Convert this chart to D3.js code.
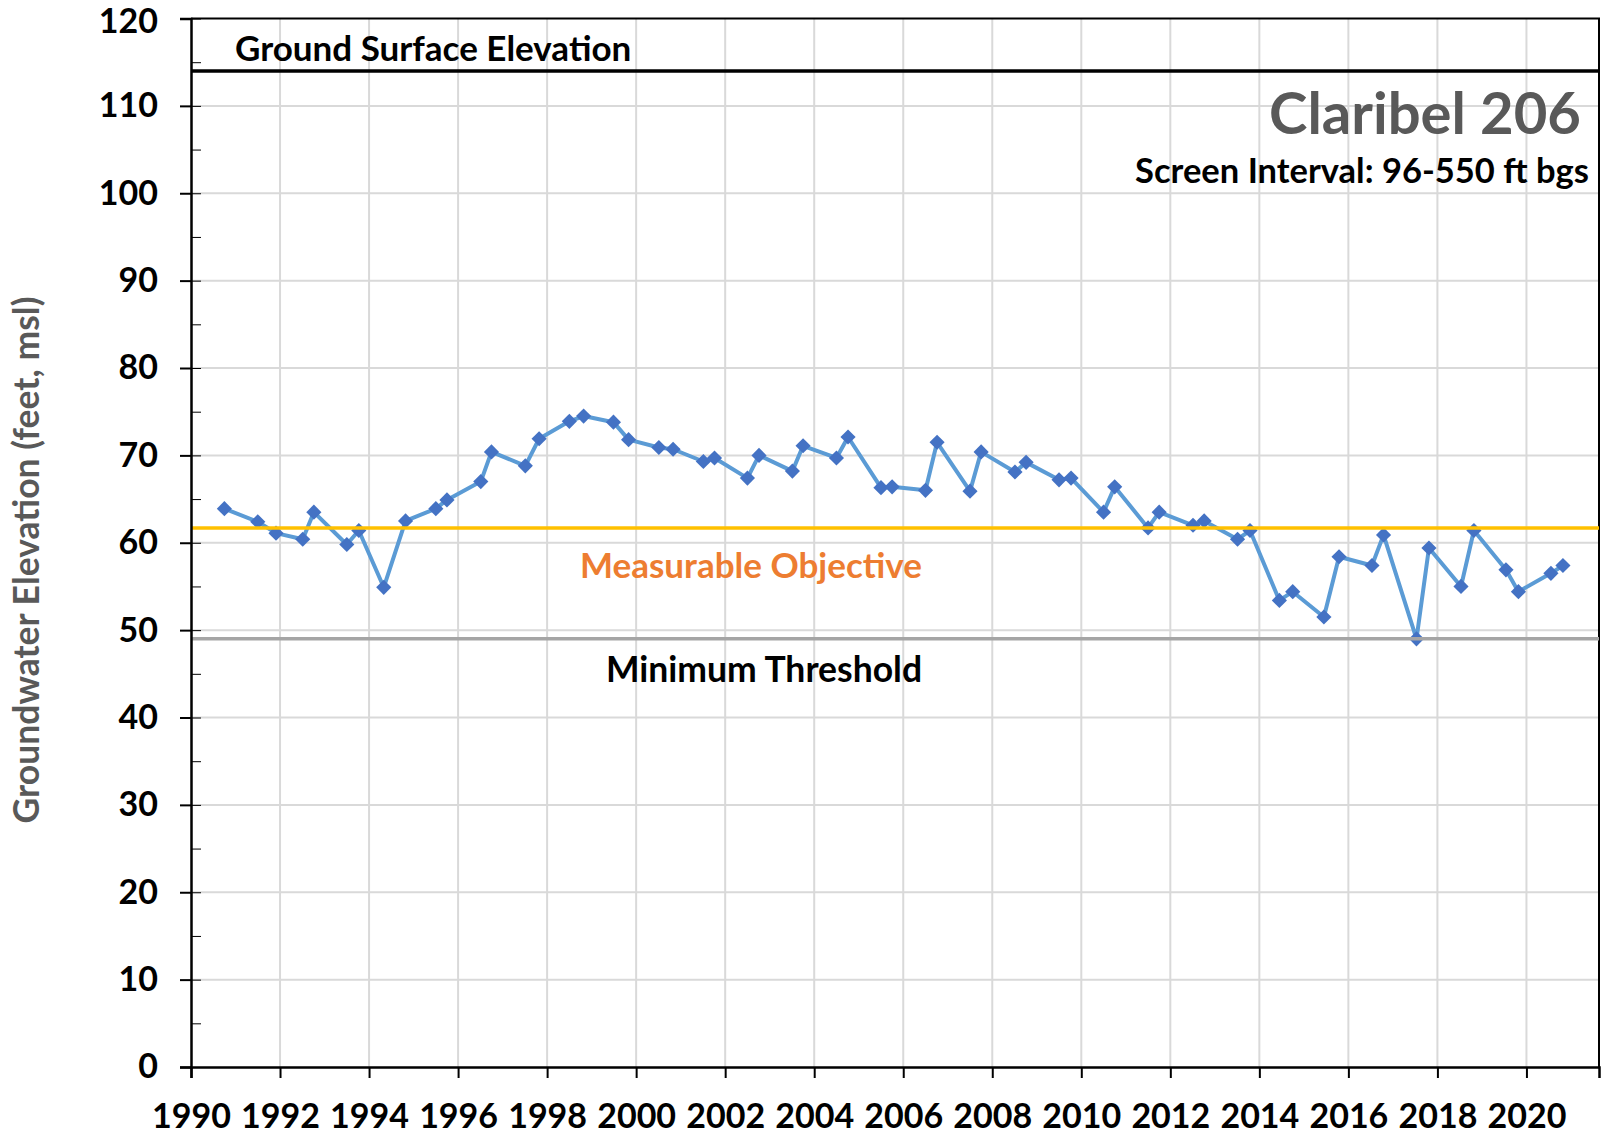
<!DOCTYPE html>
<html>
<head>
<meta charset="utf-8">
<script src="https://cdn.jsdelivr.net/npm/d3@7"></script>
<style>
  body { margin: 0; background: #fff; }
  svg text { font-family: Lato, "Open Sans", sans-serif; font-weight: 700; }
</style>
</head>
<body>
<div id="main"></div>
<script>
// Measurement dates (decimal years) and groundwater elevations (feet, msl)
var sampleYears = [
	1990.75, 1991.50, 1991.91, 1992.51, 1992.76, 1993.50, 1993.77, 1994.33, 1994.82, 1995.50,
	1995.75, 1996.51, 1996.75, 1997.51, 1997.82, 1998.50, 1998.82, 1999.49, 1999.83, 2000.51,
	2000.83, 2001.51, 2001.76, 2002.50, 2002.76, 2003.51, 2003.75, 2004.50, 2004.76, 2005.50,
	2005.75, 2006.50, 2006.76, 2007.50, 2007.75, 2008.51, 2008.76, 2009.50, 2009.77, 2010.50,
	2010.75, 2011.50, 2011.75, 2012.51, 2012.76, 2013.51, 2013.79, 2014.45, 2014.75, 2015.45,
	2015.79, 2016.53, 2016.79, 2017.53, 2017.81, 2018.53, 2018.82, 2019.54, 2019.82, 2020.55,
	2020.82
];
var elevations = [
	63.9, 62.4, 61.1, 60.4, 63.5, 59.8, 61.4, 54.9, 62.5, 63.9,
	64.9, 67.0, 70.4, 68.8, 71.9, 73.9, 74.5, 73.8, 71.8, 70.9,
	70.7, 69.3, 69.7, 67.4, 70.0, 68.2, 71.1, 69.7, 72.1, 66.3,
	66.4, 66.0, 71.5, 65.9, 70.4, 68.1, 69.2, 67.2, 67.4, 63.5,
	66.4, 61.7, 63.5, 62.0, 62.5, 60.4, 61.4, 53.4, 54.4, 51.5,
	58.4, 57.4, 60.9, 49.0, 59.4, 55.0, 61.4, 56.9, 54.4, 56.5,
	57.4
];

// Reference levels
var groundSurface = 114;
var measurableObjective = 61.7;
var minimumThreshold = 49;

// Tick labels
var xTickYears = [1990, 1992, 1994, 1996, 1998, 2000, 2002, 2004, 2006, 2008, 2010, 2012, 2014, 2016, 2018, 2020];
var yTickValues = [0, 10, 20, 30, 40, 50, 60, 70, 80, 90, 100, 110, 120];
var yMinorValues = d3.range(0, 121, 5);

var svgWidth = 1601;
var svgHeight = 1134;
var plot = {l: 191, r: 1599, t: 18.5, b: 1067};

var svg = d3.select('#main')
	.append('svg')
	.attr('width', svgWidth)
	.attr('height', svgHeight);

var xScale = d3.scaleLinear().domain([1990, 2021.63]).range([plot.l, plot.r]);
var yScale = d3.scaleLinear().domain([0, 120]).range([plot.b, plot.t]);

// gridlines
svg.append('g').selectAll('line')
	.data(yTickValues.slice(1, -1))
	.enter().append('line')
	.attr('x1', plot.l).attr('x2', plot.r)
	.attr('y1', function(d) { return yScale(d); })
	.attr('y2', function(d) { return yScale(d); })
	.attr('stroke', '#d9d9d9').attr('stroke-width', 2);

svg.append('g').selectAll('line')
	.data(xTickYears.slice(1))
	.enter().append('line')
	.attr('x1', function(d) { return xScale(d); })
	.attr('x2', function(d) { return xScale(d); })
	.attr('y1', plot.t).attr('y2', plot.b)
	.attr('stroke', '#d9d9d9').attr('stroke-width', 2);

// plot border (top and right)
svg.append('path')
	.attr('d', `M${plot.l},${plot.t}H${plot.r}V${plot.b}`)
	.attr('fill', 'none')
	.attr('stroke', '#000').attr('stroke-width', 2);

// groundwater series
var points = sampleYears.map(function(yr, i) { return [yr, elevations[i]]; });

var line = d3.line()
	.x(function(d) { return xScale(d[0]); })
	.y(function(d) { return yScale(d[1]); });

svg.append('path')
	.datum(points)
	.attr('d', line)
	.attr('fill', 'none')
	.attr('stroke', '#5b9bd5')
	.attr('stroke-width', 4)
	.attr('stroke-linejoin', 'round');

var diamond = d3.symbol().type(d3.symbolSquare).size(115);

svg.append('g').selectAll('path')
	.data(points)
	.enter().append('path')
	.attr('d', diamond)
	.attr('transform', function(d) {
		return `translate(${xScale(d[0])},${yScale(d[1])}) rotate(45)`;
	})
	.attr('fill', '#4472c4');

// reference lines
var refLines = [
	{value: groundSurface, color: '#000000', width: 3.5},
	{value: measurableObjective, color: '#ffc000', width: 3.5},
	{value: minimumThreshold, color: '#a5a5a5', width: 3.5}
];
svg.append('g').selectAll('line')
	.data(refLines)
	.enter().append('line')
	.attr('x1', plot.l).attr('x2', plot.r)
	.attr('y1', function(d) { return yScale(d.value); })
	.attr('y2', function(d) { return yScale(d.value); })
	.attr('stroke', function(d) { return d.color; })
	.attr('stroke-width', function(d) { return d.width; });

// axes
var xAxis = d3.axisBottom(xScale)
	.tickValues(xTickYears)
	.tickSize(11)
	.tickPadding(26)
	.tickFormat(d3.format('d'));

var yAxis = d3.axisLeft(yScale)
	.tickValues(yTickValues)
	.tickSize(11)
	.tickPadding(22);

var yAxisInner = d3.axisRight(yScale)
	.tickValues(yMinorValues)
	.tickSize(10)
	.tickFormat('');

var xAxisG = svg.append('g')
	.attr('transform', `translate(0,${plot.b})`)
	.call(xAxis);

var yAxisG = svg.append('g')
	.attr('transform', `translate(${plot.l},0)`)
	.call(yAxis);

svg.append('g')
	.attr('transform', `translate(${plot.l},0)`)
	.call(yAxisInner)
	.select('.domain').remove();

[xAxisG, yAxisG].forEach(function(g) {
	g.select('.domain').attr('stroke', '#000').attr('stroke-width', 2.5);
	g.selectAll('.tick line').attr('stroke', '#000').attr('stroke-width', 2);
	g.selectAll('.tick text')
		.attr('fill', '#000')
		.style('font-size', '34px');
});

// keep the top label inside the page
yAxisG.selectAll('.tick text')
	.filter(function(d) { return d === 120; })
	.attr('dy', '0.42em');

// labels
svg.append('text')
	.attr('x', 235).attr('y', 61)
	.style('font-size', '35px')
	.attr('fill', '#000')
	.text('Ground Surface Elevation');

svg.append('text')
	.attr('x', 1581).attr('y', 134)
	.attr('text-anchor', 'end')
	.style('font-size', '58px')
	.attr('fill', '#595959')
	.text('Claribel 206');

svg.append('text')
	.attr('x', 1589).attr('y', 183)
	.attr('text-anchor', 'end')
	.style('font-size', '34.5px')
	.attr('fill', '#000')
	.text('Screen Interval: 96-550 ft bgs');

svg.append('text')
	.attr('x', 580).attr('y', 578)
	.style('font-size', '35px')
	.attr('fill', '#ed7d31')
	.text('Measurable Objective');

svg.append('text')
	.attr('x', 606).attr('y', 682)
	.style('font-size', '35.5px')
	.attr('fill', '#000')
	.text('Minimum Threshold');

svg.append('text')
	.attr('transform', 'translate(39,560) rotate(-90)')
	.attr('text-anchor', 'middle')
	.style('font-size', '35.5px')
	.attr('fill', '#595959')
	.text('Groundwater Elevation (feet, msl)');
</script>
</body>
</html>
